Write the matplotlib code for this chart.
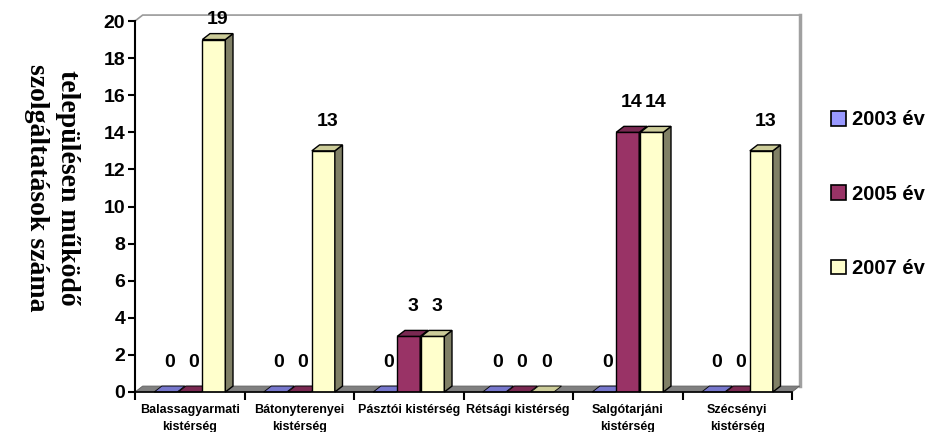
import numpy as np
import matplotlib
matplotlib.use('Agg')
import matplotlib.pyplot as plt
from matplotlib.patches import Polygon, Patch

# data
categories = ['Balassagyarmati\nkistérség', 'Bátonyterenyei\nkistérség',
              'Pásztói kistérség', 'Rétsági kistérség',
              'Salgótarjáni\nkistérség', 'Szécsényi\nkistérség']
years = ['2003 év', '2005 év', '2007 év']
v2003 = [0, 0, 0, 0, 0, 0]
v2005 = [0, 0, 3, 0, 14, 0]
v2007 = [19, 13, 3, 0, 14, 13]
series = [v2003, v2005, v2007]

front = ['#9999FF', '#993366', '#FFFFCC']
top = ['#7777CC', '#7A2952', '#CCCC99']
side = ['#4C4C80', '#4D1A33', '#808066']

fig = plt.figure(figsize=(9.4, 4.32), dpi=100)
ax = fig.add_axes([135/940, 40/432, 657/940, 371/432])

ax.set_xlim(0, 6)
ax.set_ylim(0, 20)

dx, dy = 0.07, 0.32      # fake 3d depth
w = 0.21
offs = [-0.22, 0.0, 0.22]

# back wall and floor
ax.plot([0, dx, 6 + dx], [20, 20 + dy, 20 + dy], color='#999999', lw=1.2, clip_on=False, zorder=1)
ax.plot([6 + dx, 6 + dx], [20 + dy, dy], color='#A0A0A0', lw=2.5, clip_on=False, zorder=1)
ax.add_patch(Polygon([(0, 0), (dx, dy), (6 + dx, dy), (6, 0)], closed=True,
                     facecolor='#808080', edgecolor='#606060', lw=0.6, clip_on=False, zorder=2))

x = np.arange(len(categories)) + 0.5
for i in range(len(categories)):
    for s, vals in enumerate(series):
        v = vals[i]
        x0 = x[i] + offs[s] - w / 2
        x1 = x0 + w
        z = 3 + s
        if v > 0:
            ax.bar(x0, v, width=w, align='edge', color=front[s], edgecolor='black', lw=1.0, zorder=z)
            ax.add_patch(Polygon([(x1, 0), (x1, v), (x1 + dx, v + dy), (x1 + dx, dy)], closed=True,
                                 facecolor=side[s], edgecolor='black', lw=1.0, zorder=z, clip_on=False))
        ax.add_patch(Polygon([(x0, v), (x0 + dx, v + dy), (x1 + dx, v + dy), (x1, v)], closed=True,
                             facecolor=top[s], edgecolor='black', lw=1.0 if v > 0 else 0.6,
                             zorder=z, clip_on=False))
        ax.text(x0 + w / 2 + dx / 2, min(v + 1.6, 20.1), str(v), ha='center', va='center',
                fontsize=14, fontweight='bold', family='Liberation Sans', zorder=10, clip_on=False)

# axes styling
for sp in ['top', 'right']:
    ax.spines[sp].set_visible(False)
ax.spines['left'].set_linewidth(1.5)
ax.spines['bottom'].set_linewidth(1.2)
ax.spines['bottom'].set_zorder(8)

ax.set_yticks(np.arange(0, 21, 2))
ax.tick_params(axis='y', direction='out', length=5, width=1.5, labelsize=14, pad=2)
for lab in ax.get_yticklabels():
    lab.set_fontweight('bold')
    lab.set_family('Liberation Sans')

ax.set_xticks(np.arange(0, 7))
ax.set_xticklabels([])
ax.tick_params(axis='x', which='major', direction='out', length=6, width=1.5)
ax.set_xticks(x, minor=True)
ax.set_xticklabels(categories, minor=True, fontsize=9, fontweight='bold',
                   family='Liberation Sans', linespacing=1.45)
ax.tick_params(axis='x', which='minor', length=0, pad=9)

fig.text(0.055, 0.565, 'településen működő\nszolgáltatások száma', rotation=270,
         ha='center', va='center', fontsize=20, fontweight='bold',
         family='Liberation Serif', linespacing=1.3)

handles = [Patch(facecolor=front[k], edgecolor='black', lw=1.2) for k in range(3)]
fig.legend(handles, years, loc='upper left', bbox_to_anchor=(0.884, 0.745),
           frameon=False, prop={'weight': 'bold', 'family': 'Liberation Sans', 'size': 14.5},
           handlelength=0.75, handleheight=0.75, handletextpad=0.3, labelspacing=2.75,
           borderpad=0, borderaxespad=0)

fig.savefig('out.png', dpi=100)
